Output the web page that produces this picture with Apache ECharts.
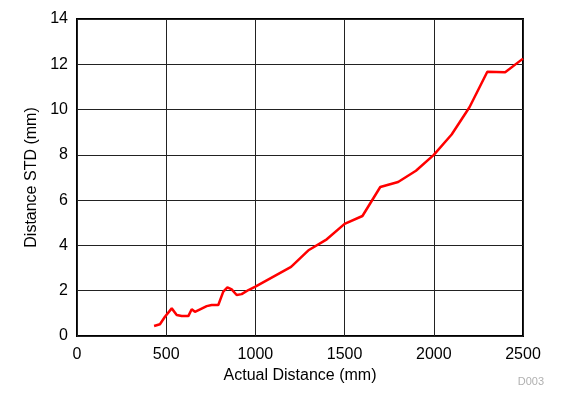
<!DOCTYPE html>
<html>
<head>
<meta charset="utf-8">
<script src="https://cdn.jsdelivr.net/npm/echarts@6/dist/echarts.min.js"></script>
<style>
  html, body { margin: 0; padding: 0; background: #fff; }
  #chart { width: 562px; height: 398px; }
</style>
</head>
<body>
<div id="chart"></div>
<script>
// actual distance (mm) vs distance std (mm)
const actualDistance = [432, 465, 493, 531, 559, 587, 624, 643, 661, 690, 727, 755, 792,
  820, 843, 867, 895, 923, 961, 1000, 1200, 1300, 1400, 1500, 1600, 1700, 1800, 1900,
  2000, 2100, 2200, 2300, 2400, 2500];
const distanceStd = [0.44, 0.52, 0.85, 1.22, 0.93, 0.88, 0.88, 1.18, 1.07, 1.18, 1.32, 1.37, 1.37,
  1.96, 2.15, 2.06, 1.81, 1.85, 2.03, 2.18, 3.05, 3.8, 4.27, 4.95, 5.3, 6.58, 6.8, 7.3,
  8.0, 8.9, 10.1, 11.67, 11.65, 12.25];

const xTicks = [0, 500, 1000, 1500, 2000, 2500];
const yTicks = [0, 2, 4, 6, 8, 10, 12, 14];

var chart = echarts.init(document.getElementById('chart'), null, { renderer: 'canvas' });

const fontFamily = '"Liberation Sans", Arial, sans-serif';

var option = {
  animation: false,
  grid: { left: 77, right: 39, top: 19, bottom: 62, show: true, borderColor: '#000', borderWidth: 2 },
  xAxis: {
    type: 'value',
    min: xTicks[0],
    max: xTicks[xTicks.length - 1],
    interval: 500,
    name: 'Actual Distance (mm)',
    nameLocation: 'middle',
    nameGap: 30,
    nameTextStyle: { color: '#000', fontSize: 16, fontFamily: fontFamily },
    axisLine: { show: false },
    axisTick: { show: false },
    axisLabel: { color: '#000', fontSize: 16, fontFamily: fontFamily, margin: 11,
      formatter: v => String(v) },
    splitLine: { show: true, lineStyle: { color: '#222', width: 1 } }
  },
  yAxis: {
    type: 'value',
    min: yTicks[0],
    max: yTicks[yTicks.length - 1],
    interval: 2,
    name: 'Distance STD (mm)',
    nameLocation: 'middle',
    nameGap: 37,
    nameTextStyle: { color: '#000', fontSize: 16, fontFamily: fontFamily },
    axisLine: { show: false },
    axisTick: { show: false },
    axisLabel: { color: '#000', fontSize: 16, fontFamily: fontFamily, margin: 9 },
    splitLine: { show: true, lineStyle: { color: '#222', width: 1 } }
  },
  graphic: [{
    type: 'text',
    right: 18,
    top: 376,
    style: { text: 'D003', fill: '#b0b0b0', fontSize: 11, fontFamily: fontFamily }
  }],
  series: [{
    type: 'line',
    data: actualDistance.map((x, i) => [x, distanceStd[i]]),
    showSymbol: false,
    lineStyle: { color: '#ff0000', width: 2.5 },
    z: 3
  }]
};

chart.setOption(option);
</script>
</body>
</html>
